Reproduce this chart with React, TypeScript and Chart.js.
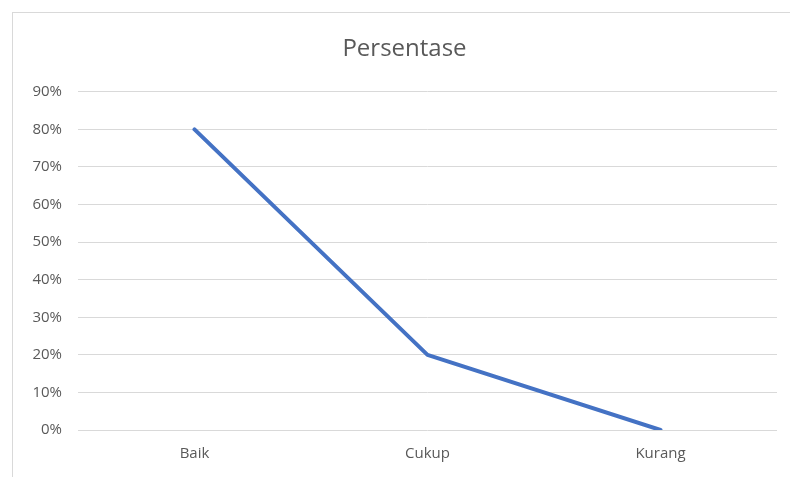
import React, { useEffect, useRef } from "react";
import { Chart, registerables } from "chart.js";

Chart.register(...registerables);

const categories = ["Baik", "Cukup", "Kurang"];
const persentase = [80, 20, 0];
const yTicks = { min: 0, max: 90, step: 10 };
const chartTitle = "Persentase";

export default function App() {
  const ref = useRef<HTMLCanvasElement | null>(null);

  useEffect(() => {
    if (!ref.current) return;
    const chart = new Chart(ref.current, {
      type: "line",
      data: {
        labels: categories,
        datasets: [
          {
            label: chartTitle,
            data: persentase,
            borderColor: "#4472C4",
            backgroundColor: "#4472C4",
            borderWidth: 4,
            borderCapStyle: "round",
            borderJoinStyle: "round",
            pointRadius: 0,
            pointHoverRadius: 0,
            tension: 0,
          },
        ],
      },
      options: {
        animation: false,
        responsive: false,
        maintainAspectRatio: false,
        layout: { padding: { left: 32, right: 13, top: 0, bottom: 0 } },
        plugins: {
          legend: { display: false },
          tooltip: { enabled: false },
          title: {
            display: true,
            text: chartTitle,
            color: "#595959",
            font: { family: "Open Sans", size: 24, weight: "normal" },
            padding: { top: 35, bottom: 28 },
          },
        },
        scales: {
          x: {
            offset: true,
            grid: { display: false, drawTicks: false },
            border: { display: false },
            ticks: {
              color: "#595959",
              font: { family: "Open Sans", size: 15 },
              padding: 15,
            },
            afterFit: (s: any) => {
              s.height = 47;
            },
          },
          y: {
            min: yTicks.min,
            max: yTicks.max,
            grid: { color: "#d9d9d9", lineWidth: 1, drawTicks: false },
            border: { display: false },
            ticks: {
              stepSize: yTicks.step,
              color: "#595959",
              font: { family: "Open Sans", size: 15 },
              padding: 16,
              callback: (v: any) => v + "%",
            },
            afterFit: (s: any) => {
              s.width = 46;
            },
          },
        },
      },
    });
    return () => chart.destroy();
  }, []);

  return (
    <div
      style={{
        position: "fixed",
        left: 0,
        top: 0,
        width: 790,
        height: 477,
        background: "#fff",
        overflow: "hidden",
      }}
    >
      <div
        style={{
          position: "absolute",
          left: 12,
          top: 12,
          width: 800,
          height: 500,
          border: "1.5px solid #d9d9d9",
          boxSizing: "border-box",
        }}
      />
      <canvas
        ref={ref}
        width={790}
        height={477}
        style={{ position: "absolute", left: 0, top: 0 }}
      />
    </div>
  );
}
